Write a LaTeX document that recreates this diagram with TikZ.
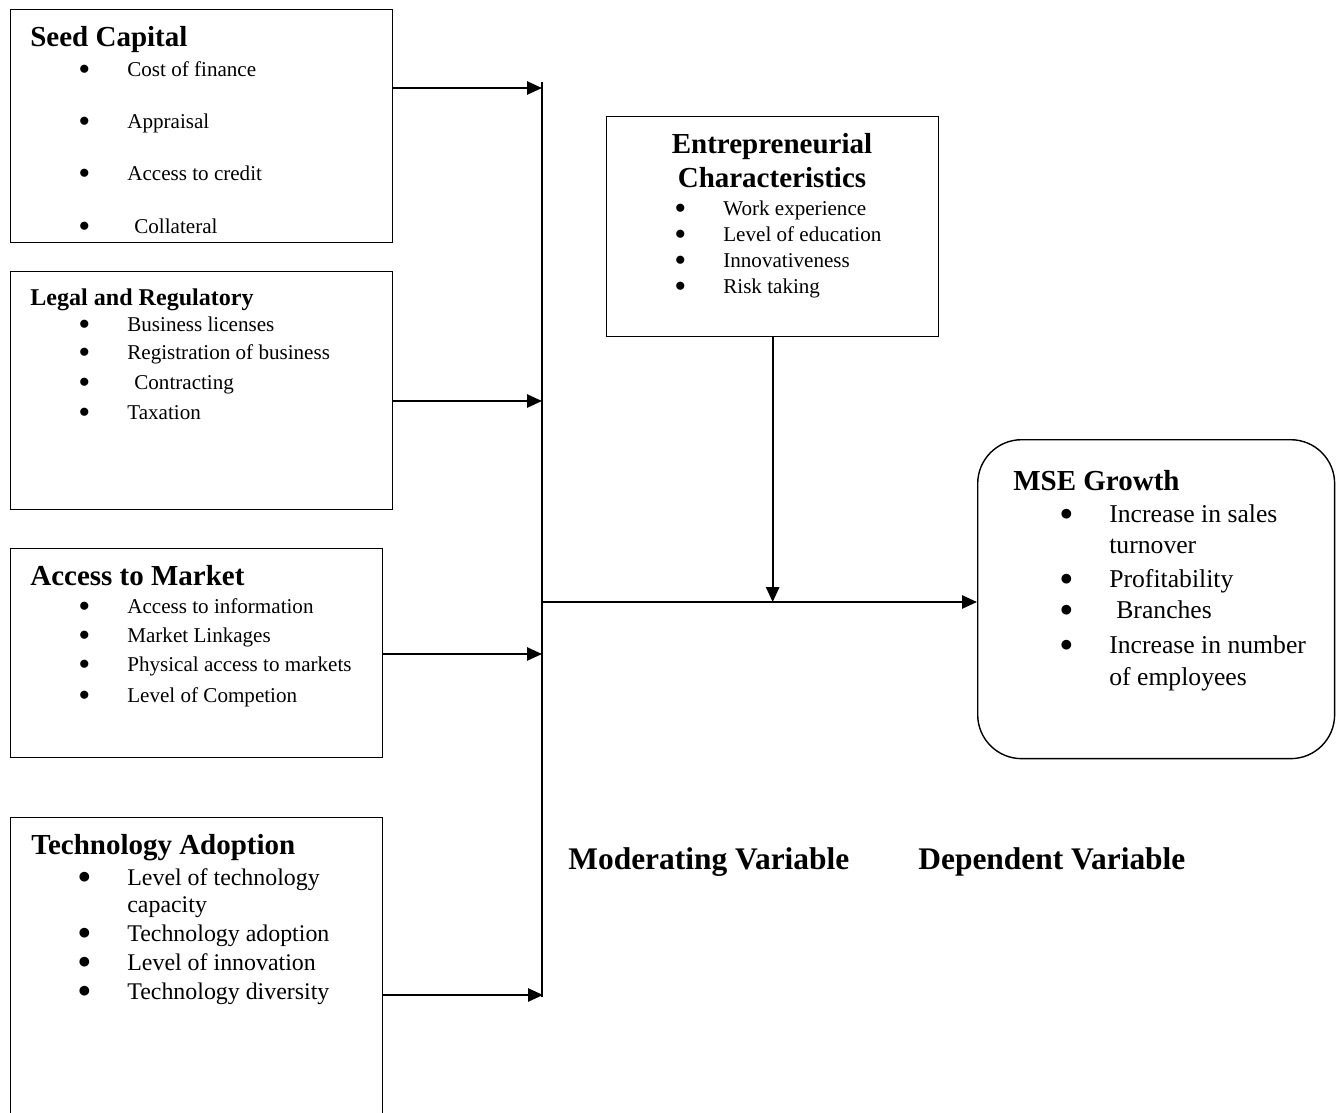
\documentclass[tikz,border=0pt]{standalone}
\usepackage{fontspec}
\setmainfont{Liberation Serif}
\usetikzlibrary{arrows.meta}
\newcommand{\itm}{\llap{\makebox[48.8pt]{\raisebox{0.8pt}{$\bullet$}}}}

\begin{document}
\begin{tikzpicture}[x=0.02cm,y=-0.02cm,>={Triangle[length=8.5pt,width=7.5pt]},
  box/.style={draw,line width=0.8pt,anchor=north west,inner sep=0pt},
  head/.style={anchor=base west,inner sep=0pt,font=\bfseries\fontsize{16.5}{19}\selectfont},
  item/.style={anchor=base west,inner sep=0pt,font=\fontsize{12}{14}\selectfont},
  link/.style={line width=1.1pt}]
\useasboundingbox (0,0) rectangle (1340,1113);
% independent variables
\node[box,minimum width=7.64cm,minimum height=4.66cm] (seed) at (10,9) {};
\node[head] (seed-t) at (30,46) {Seed Capital};
\foreach \y/\t [count=\i] in {76/Cost of finance,128/Appraisal,180/Access to credit,233/\hspace*{4pt}Collateral}
  \node[item] (seed-\i) at (127,\y) {\itm\t};

\node[box,minimum width=7.64cm,minimum height=4.76cm] (legal) at (10,271) {};
\node[head,font=\bfseries\fontsize{13.7}{16}\selectfont] (legal-t) at (30,305) {Legal and Regulatory};
\foreach \y/\t [count=\i] in {331/Business licenses,359/Registration of business,389/\hspace*{4pt}Contracting,419/Taxation}
  \node[item] (legal-\i) at (127,\y) {\itm\t};

\node[box,minimum width=7.44cm,minimum height=4.18cm] (market) at (10,548) {};
\node[head] (market-t) at (30,585) {Access to Market};
\foreach \y/\t [count=\i] in {613/Access to information,642/Market Linkages,671/Physical access to markets,702/Level of Competion}
  \node[item] (market-\i) at (127,\y) {\itm\t};

\node[box,minimum width=7.44cm,minimum height=6.6cm] (tech) at (10,817) {};
\node[head] (tech-t) at (31,854) {Technology Adoption};
\foreach \y/\t [count=\i] in {885/Level of technology,941/Technology adoption,970/Level of innovation,999/Technology diversity}
  \node[item,font=\fontsize{13.6}{16}\selectfont] (tech-\i) at (127,\y) {\itm\t};
\node[item,font=\fontsize{13.6}{16}\selectfont] (tech-1b) at (127,912) {capacity};

% moderating variable
\node[box,minimum width=6.64cm,minimum height=4.4cm] (entre) at (606,116) {};
\node[head,anchor=base] (entre-t1) at (772,153) {Entrepreneurial};
\node[head,anchor=base] (entre-t2) at (772,187) {Characteristics};
\foreach \y/\t [count=\i] in {215/Work experience,241/Level of education,267/Innovativeness,293/Risk taking}
  \node[item] (entre-\i) at (723,\y) {\itm\t};

% dependent variable
\node[box,rounded corners=25pt,minimum width=7.14cm,minimum height=6.38cm] (mse) at (977,439) {};
\node[head] (mse-t) at (1013,490) {MSE Growth};
\foreach \y/\t [count=\i] in {522/Increase in sales,587/Profitability,618/\hspace*{4pt}Branches,653/Increase in number}
  \node[item,font=\fontsize{14.6}{17}\selectfont] (mse-\i) at (1109,\y) {\itm\t};
\node[item,font=\fontsize{14.6}{17}\selectfont] (mse-1b) at (1109,553) {turnover};
\node[item,font=\fontsize{14.6}{17}\selectfont] (mse-4b) at (1109,685) {of employees};

\node[head,font=\bfseries\fontsize{17.9}{21}\selectfont] (modvar) at (568,869) {Moderating Variable};
\node[head,font=\bfseries\fontsize{17.9}{21}\selectfont] (depvar) at (918,869) {Dependent Variable};

% connectors
\coordinate (top) at (542,82);
\coordinate (bot) at (542,997);
\coordinate (j1) at (542,88);
\coordinate (j2) at (542,401);
\coordinate (j3) at (542,654);
\coordinate (j4) at (543,995);
\coordinate (hub) at (542,602);
\draw[link] (top) -- (bot);
\draw[link,->] (seed.east |- j1) -- (j1);
\draw[link,->] (legal.east |- j2) -- (j2);
\draw[link,->] (market.east |- j3) -- (j3);
\draw[link,->] (tech.east |- j4) -- (j4);
\draw[link,->] (entre.south) -- (entre.south |- hub);
\draw[link,->] (hub) -- (mse.west |- hub);
\end{tikzpicture}
\end{document}
